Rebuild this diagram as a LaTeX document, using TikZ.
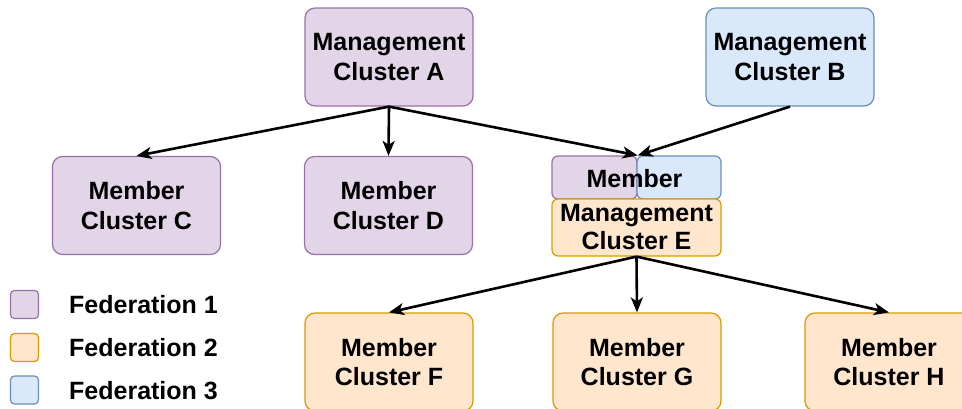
\documentclass[tikz,border=0pt]{standalone}
\usepackage{fontspec}
\setmainfont{Liberation Sans}
\usetikzlibrary{arrows.meta}
\definecolor{purF}{HTML}{E1D5E7}\definecolor{purD}{HTML}{9673A6}
\definecolor{orF}{HTML}{FFE6CC}\definecolor{orD}{HTML}{D79B00}
\definecolor{blF}{HTML}{DAE8FC}\definecolor{blD}{HTML}{6C8EBF}
\begin{document}
\begin{tikzpicture}[x=1pt,y=-1pt,
  box/.style={rectangle, rounded corners=10pt, line width=1.2pt, inner sep=0pt,
    minimum width=168pt, minimum height=98pt, align=center,
    font=\bfseries\fontsize{25}{29.5}\selectfont},
  fed1/.style={fill=purF, draw=purD},
  fed2/.style={fill=orF, draw=orD},
  fed3/.style={fill=blF, draw=blD},
  leg/.style={rectangle, rounded corners=4pt, line width=1.2pt, minimum size=28pt, inner sep=0pt},
  legtxt/.style={anchor=west, inner sep=0pt, font=\bfseries\fontsize{25}{29.5}\selectfont},
  arr/.style={line width=2.6pt, -{Stealth[length=15pt,width=12pt,inset=4pt]}}
]
\useasboundingbox (0,0) rectangle (962,408);
% top
\node[box,fed1] (A) at (389,57) {Management\\Cluster A};
\node[box,fed3] (B) at (790,57) {Management\\Cluster B};
% middle
\node[box,fed1] (C) at (136.5,205.5) {Member\\Cluster C};
\node[box,fed1] (D) at (388.5,205.5) {Member\\Cluster D};
\node[box,fed1,rounded corners=6pt,minimum width=85pt,minimum height=43pt] (Mp) at (594.5,177.5) {};
\node[box,fed3,rounded corners=6pt,minimum width=84pt,minimum height=43pt] (Mb) at (679,177.5) {};
\node[box,fed2,rounded corners=6pt,minimum width=169pt,minimum height=57pt] (E) at (636.5,227.5) {};
\node[inner sep=0pt,font=\bfseries\fontsize{25}{29.5}\selectfont] (Mt) at (634.5,179) {Member};
\node[inner sep=0pt,align=center,font=\bfseries\fontsize{25}{28}\selectfont] (Et) at (636.5,227) {Management\\Cluster E};
% bottom
\node[box,fed2] (F) at (389,362) {Member\\Cluster F};
\node[box,fed2] (G) at (637,362) {Member\\Cluster G};
\node[box,fed2] (H) at (889,362) {Member\\Cluster H};
% legend
\node[leg,fed1] (L1) at (24.5,304.5) {};
\node[leg,fed2] (L2) at (24.5,347.5) {};
\node[leg,fed3] (L3) at (24.5,390) {};
\node[legtxt] (T1) at (69,305) {Federation 1};
\node[legtxt] (T2) at (69,348) {Federation 2};
\node[legtxt] (T3) at (69,391) {Federation 3};
% connectors
\draw[arr] (A.south) -- (C.north);
\draw[arr] (A.south) -- (D.north);
\draw[arr] (A.south) -- (Mp.north east);
\draw[arr] (B.south) -- (Mp.north east);
\draw[arr] (E.south) -- (F.north);
\draw[arr] (E.south) -- (G.north);
\draw[arr] (E.south) -- (H.north);
\end{tikzpicture}
\end{document}
